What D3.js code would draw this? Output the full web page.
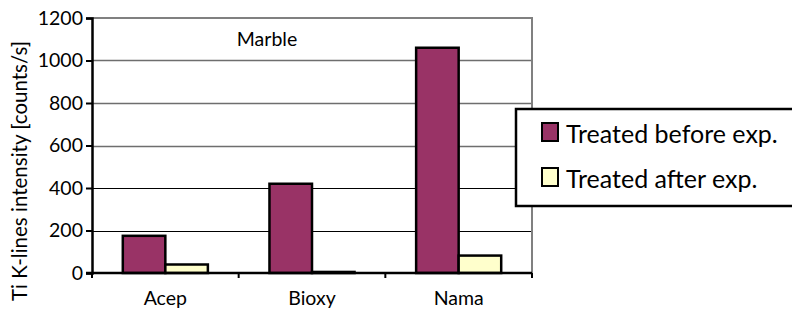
<!DOCTYPE html>
<html>
<head>
<meta charset="utf-8">
<script src="https://cdn.jsdelivr.net/npm/d3@7"></script>
<style>
  body { margin: 0; background: #fff; }
  svg { display: block; font-family: Lato, "Liberation Sans", sans-serif; }
</style>
</head>
<body>
<div id="chart"></div>
<script>
// data
const categories = ["Acep", "Bioxy", "Nama"];
const seriesNames = ["Treated before exp.", "Treated after exp."];
const beforeValues = [175, 420, 1060];
const afterValues = [40, 5, 82];
const yTicks = [0, 200, 400, 600, 800, 1000, 1200];
const seriesColors = ["#993366", "#FFFFCC"];

const width = 792, height = 314;
const plot = {left: 92, right: 532, top: 18, bottom: 273};

const svg = d3.select("#chart").append("svg")
  .attr("width", width)
  .attr("height", height);

const x = d3.scaleBand()
  .domain(categories)
  .range([plot.left, plot.right])
  .paddingInner(0.42)
  .paddingOuter(0.21);

const xs = d3.scaleBand()
  .domain(seriesNames)
  .range([0, x.bandwidth()]);

const y = d3.scaleLinear()
  .domain([0, 1200])
  .range([plot.bottom, plot.top]);

// gridlines
svg.append("g")
  .selectAll("line")
  .data(yTicks.filter(d => d > 0 && d < 1200))
  .join("line")
  .attr("x1", plot.left).attr("x2", plot.right)
  .attr("y1", d => Math.round(y(d)) + 0.5).attr("y2", d => Math.round(y(d)) + 0.5)
  .attr("stroke", d => d >= 600 ? "#6e6e6e" : "#000")
  .attr("stroke-width", d => d >= 600 ? 1.6 : 1);

// plot area border (grey, top + right)
svg.append("path")
  .attr("d", `M${plot.left},${y(1200)}H${plot.right}V${plot.bottom}`)
  .attr("fill", "none")
  .attr("stroke", "#808080")
  .attr("stroke-width", 2);

// bars
const rows = categories.map((c, i) => ({cat: c, vals: [beforeValues[i], afterValues[i]]}));
const groups = svg.append("g")
  .selectAll("g")
  .data(rows)
  .join("g")
  .attr("transform", d => `translate(${x(d.cat)},0)`);

groups.selectAll("rect")
  .data(d => d.vals.map((v, j) => ({name: seriesNames[j], v: v, j: j})))
  .join("rect")
  .attr("x", d => xs(d.name))
  .attr("width", xs.bandwidth())
  .attr("y", d => y(d.v))
  .attr("height", d => y(0) - y(d.v))
  .attr("fill", d => seriesColors[d.j])
  .attr("stroke", "#000")
  .attr("stroke-width", 2.5);

// y axis
const yAxis = svg.append("g")
  .attr("transform", `translate(${plot.left},0)`)
  .call(d3.axisLeft(y).tickValues(yTicks).tickSize(6).tickPadding(3).tickFormat(d3.format("d")));
yAxis.select(".domain").attr("stroke", "#000").attr("stroke-width", 2.5);
yAxis.selectAll(".tick line").attr("stroke", "#000").attr("stroke-width", 2);
yAxis.selectAll(".tick text")
  .attr("font-size", 19.5)
  .attr("font-family", "Lato, sans-serif")
  .attr("fill", "#000");

// x axis
const xAxis = svg.append("g")
  .attr("transform", `translate(0,${plot.bottom})`)
  .call(d3.axisBottom(x).tickSize(0).tickPadding(18));
xAxis.select(".domain").remove();
xAxis.append("line")
  .attr("x1", plot.left - 6).attr("x2", plot.right)
  .attr("stroke", "#000").attr("stroke-width", 2.5);
xAxis.selectAll(".sep")
  .data(d3.range(categories.length + 1))
  .join("line")
  .attr("class", "sep")
  .attr("x1", i => plot.left + i * x.step()).attr("x2", i => plot.left + i * x.step())
  .attr("y1", 0).attr("y2", 5)
  .attr("stroke", "#000").attr("stroke-width", 2);
xAxis.selectAll(".tick text")
  .attr("font-size", 19.5)
  .attr("font-family", "Lato, sans-serif")
  .attr("fill", "#000");

// y title
svg.append("text")
  .attr("transform", "translate(27,171) rotate(-90)")
  .attr("text-anchor", "middle")
  .attr("font-size", 20.5)
  .text("Ti K-lines intensity [counts/s]");

// chart label
svg.append("text")
  .attr("x", 267).attr("y", 46)
  .attr("text-anchor", "middle")
  .attr("font-size", 19.5)
  .text("Marble");

// legend
const legend = svg.append("g");
legend.append("rect")
  .attr("x", 516).attr("y", 109)
  .attr("width", 290).attr("height", 97)
  .attr("fill", "#fff")
  .attr("stroke", "#000")
  .attr("stroke-width", 2.5);

const items = legend.selectAll("g.item")
  .data(seriesNames)
  .join("g")
  .attr("class", "item")
  .attr("transform", (d, i) => `translate(542,${123 + i * 45})`);
items.append("rect")
  .attr("width", 16).attr("height", 18)
  .attr("fill", (d, i) => seriesColors[i])
  .attr("stroke", "#000")
  .attr("stroke-width", 2);
items.append("text")
  .attr("x", 24).attr("y", 20)
  .attr("font-size", 25)
  .text(d => d);
</script>
</body>
</html>
